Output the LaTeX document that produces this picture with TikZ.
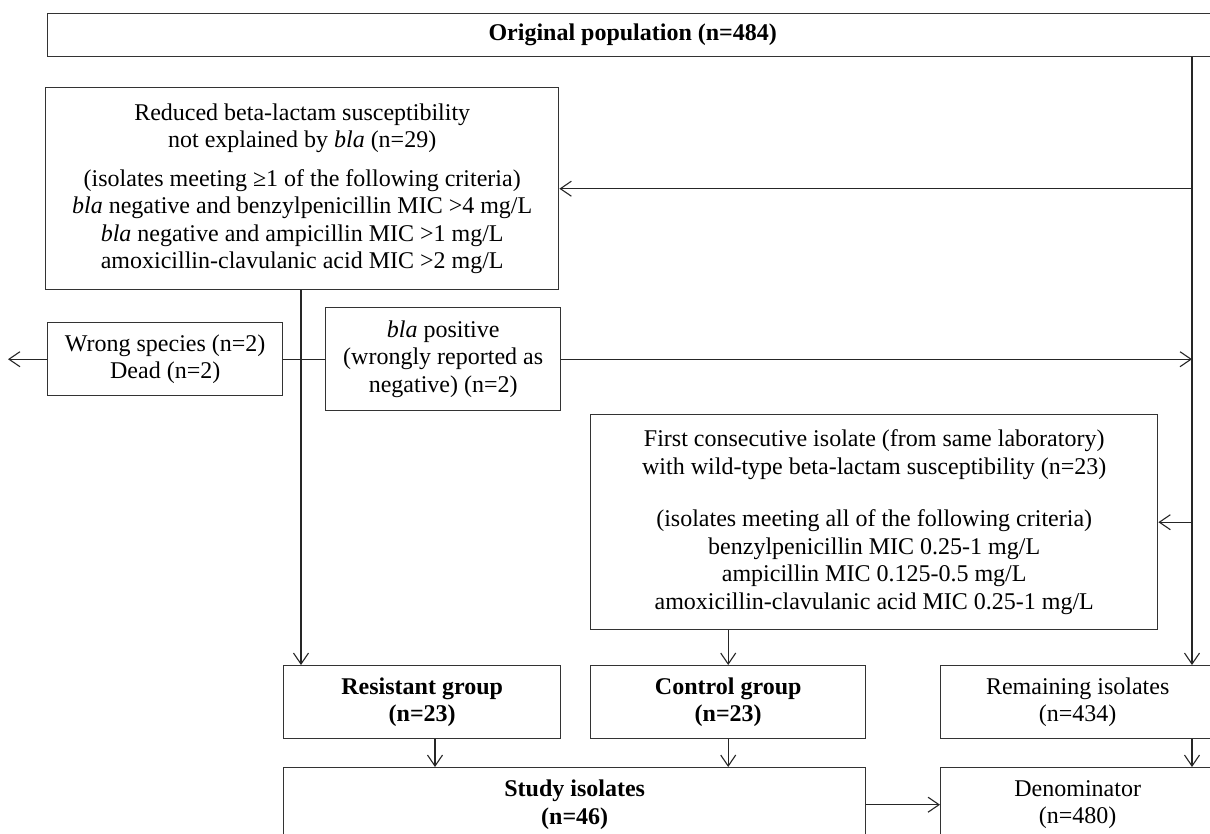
\documentclass[tikz,border=0pt]{standalone}
\usepackage{fontspec}
\setmainfont{Liberation Serif}
\usetikzlibrary{arrows.meta}
\begin{document}
\begin{tikzpicture}[x=1pt,y=-1pt,
 box/.style={draw=black!80,line width=1.4pt,anchor=north west,inner sep=0pt,align=center,font=\fontsize{24}{27.5}\selectfont},
 arr/.style={line width=1.1pt,draw=black!85,-{Straight Barb[length=11pt,width=15pt,line width=1.1pt]}},
 ln/.style={line width=1.1pt,draw=black!85}]
\useasboundingbox (0,0) rectangle (1210,833);
\clip (0,0) rectangle (1210,833);
\fill[white] (0,0) rectangle (1210,833);
\node[box,minimum width=1170pt,minimum height=43pt] (top) at (47,13) {\textbf{Original population (n=484)}};
\node[box,minimum width=513pt,minimum height=202pt] (reduced) at (45,87) {Reduced beta-lactam susceptibility\\
not explained by \textit{bla} (n=29)\\[11pt]
(isolates meeting ≥1 of the following criteria)\\
\textit{bla} negative and benzylpenicillin MIC >4 mg/L\\
\textit{bla} negative and ampicillin MIC >1 mg/L\\
amoxicillin-clavulanic acid MIC >2 mg/L};
\node[box,minimum width=235pt,minimum height=73pt] (wrong) at (47,322) {Wrong species (n=2)\\Dead (n=2)};
\node[box,minimum width=235pt,minimum height=103pt] (bla) at (325,307) {\textit{bla} positive\\(wrongly reported as\\negative) (n=2)};
\node[box,minimum width=567pt,minimum height=215pt] (first) at (590,414) {First consecutive isolate (from same laboratory)\\
with wild-type beta-lactam susceptibility (n=23)\\[25pt]
(isolates meeting all of the following criteria)\\
benzylpenicillin MIC 0.25-1 mg/L\\
ampicillin MIC 0.125-0.5 mg/L\\
amoxicillin-clavulanic acid MIC 0.25-1 mg/L};
\node[box,minimum width=277pt,minimum height=73pt] (resist) at (283,665) {\textbf{Resistant group}\\\textbf{(n=23)}};
\node[box,minimum width=275pt,minimum height=73pt] (control) at (590,665) {\textbf{Control group}\\\textbf{(n=23)}};
\node[box,minimum width=274pt,minimum height=73pt] (remain) at (940,665) {Remaining isolates\\(n=434)};
\node[box,minimum width=582pt,minimum height=74pt] (study) at (283,767) {\textbf{Study isolates}\\\textbf{(n=46)}};
\node[box,minimum width=274pt,minimum height=74pt] (denom) at (940,767) {Denominator\\(n=480)};
\coordinate (rail) at (1192,0);
\coordinate (lrail) at (301,0);
\coordinate (rx) at (435,0);
\coordinate (out) at (8,0);
\draw[arr] (top.south -| rail) -- (remain.north -| rail);
\draw[arr] (reduced.east -| rail) -- (reduced.east);
\draw[arr] (first.east -| rail) -- (first.east);
\draw[ln] (wrong.east) -- (bla.west);
\draw[arr] (bla.east) -- (bla.east -| rail);
\draw[arr] (wrong.west) -- (wrong.west -| out);
\draw[arr] (reduced.south -| lrail) -- (resist.north -| lrail);
\draw[arr] (first.south -| control.north) -- (control.north);
\draw[arr] (resist.south -| rx) -- (study.north -| rx);
\draw[arr] (control.south) -- (study.north -| control.south);
\draw[arr] (remain.south -| rail) -- (denom.north -| rail);
\draw[arr] (study.east) -- (denom.west);
\end{tikzpicture}
\end{document}
